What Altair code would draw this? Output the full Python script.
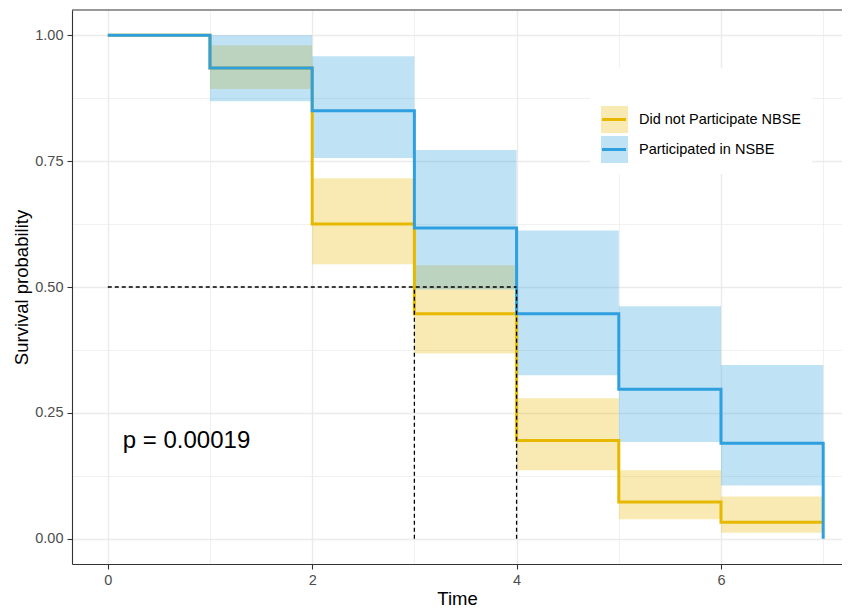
import altair as alt
import pandas as pd

# ---- data ----
groups = ["Did not Participate NBSE", "Participated in NSBE"]
line_colors = ["#E7B800", "#2E9FDF"]

times = [0, 1, 2, 3, 4, 5, 6, 7]
surv_no = [1.0, 0.935, 0.625, 0.447, 0.195, 0.073, 0.033, 0.033]
surv_yes = [1.0, 0.935, 0.85, 0.617, 0.447, 0.297, 0.19, 0.0]

band_start = [1, 2, 3, 4, 5, 6]
band_end = [2, 3, 4, 5, 6, 7]
lower_no = [0.893, 0.545, 0.368, 0.136, 0.039, 0.012]
upper_no = [0.980, 0.716, 0.543, 0.279, 0.136, 0.084]
lower_yes = [0.869, 0.756, 0.495, 0.325, 0.192, 0.106]
upper_yes = [1.0, 0.958, 0.772, 0.612, 0.462, 0.345]

median_times = [3, 4]
median_level = 0.5
pval_text = "p = 0.00019"

# ---- tables ----
lines_df = pd.DataFrame({
    "time": times * 2,
    "surv": surv_no + surv_yes,
    "group": [groups[0]] * len(times) + [groups[1]] * len(times),
})
bands_df = pd.DataFrame({
    "t0": band_start * 2,
    "t1": band_end * 2,
    "lo": lower_no + lower_yes,
    "hi": upper_no + upper_yes,
    "group": [groups[0]] * len(band_start) + [groups[1]] * len(band_start),
})
median_df = pd.DataFrame({
    "x": [0] + median_times,
    "x2": [max(median_times)] + median_times,
    "y": [median_level] + [0.0] * len(median_times),
    "y2": [median_level] + [median_level] * len(median_times),
})
pval_df = pd.DataFrame({"x": [0.147], "y": [0.18], "label": [pval_text]})
dummy = pd.DataFrame({"a": [0]})

FONT = "Liberation Sans"
W, H = 770, 554
xscale = alt.Scale(domain=[-0.35, 7.184], nice=False, zero=False)
yscale = alt.Scale(domain=[-0.05, 1.05], nice=False, zero=False)
color_scale = alt.Scale(domain=groups, range=line_colors)

x_axis = alt.Axis(
    values=[0, 1, 2, 3, 4, 5, 6, 7],
    labelExpr="datum.value % 2 == 1 ? '' : format(datum.value, 'd')",
    tickOpacity={"condition": {"test": "datum.value % 2 == 1", "value": 0}, "value": 1},
    gridWidth={"condition": {"test": "datum.value % 2 == 1", "value": 0.7}, "value": 1.4},
    title="Time",
)
y_axis = alt.Axis(
    values=[0, 0.125, 0.25, 0.375, 0.5, 0.625, 0.75, 0.875, 1.0],
    labelExpr="round(datum.value * 8) % 2 == 1 ? '' : format(datum.value, '.2f')",
    tickOpacity={"condition": {"test": "round(datum.value * 8) % 2 == 1", "value": 0}, "value": 1},
    gridWidth={"condition": {"test": "round(datum.value * 8) % 2 == 1", "value": 0.7}, "value": 1.4},
    title="Survival probability",
)

bands = alt.Chart(bands_df).mark_rect(opacity=0.3, strokeWidth=0).encode(
    x=alt.X("t0:Q", scale=xscale, axis=x_axis),
    x2="t1:Q",
    y=alt.Y("lo:Q", scale=yscale, axis=y_axis),
    y2="hi:Q",
    color=alt.Color("group:N", scale=color_scale, legend=None),
)

lines = alt.Chart(lines_df).mark_line(interpolate="step-after", strokeWidth=3).encode(
    x=alt.X("time:Q", scale=xscale, axis=x_axis),
    y=alt.Y("surv:Q", scale=yscale, axis=y_axis),
    color=alt.Color("group:N", scale=color_scale, legend=None),
    order=alt.Order("time:Q"),
)

median = alt.Chart(median_df).mark_rule(color="black", strokeWidth=1.3, strokeDash=[4, 3]).encode(
    x=alt.X("x:Q", scale=xscale, axis=x_axis),
    x2="x2:Q",
    y=alt.Y("y:Q", scale=yscale, axis=y_axis),
    y2="y2:Q",
)

pval = alt.Chart(pval_df).mark_text(
    align="left", baseline="alphabetic", fontSize=24, font=FONT, color="black"
).encode(
    x=alt.X("x:Q", scale=xscale, axis=x_axis),
    y=alt.Y("y:Q", scale=yscale, axis=y_axis),
    text="label:N",
)

top_border = alt.Chart(dummy).mark_rule(color="#333333", strokeWidth=1.1).encode(
    x=alt.value(0), x2=alt.value(W), y=alt.value(0)
)

# ---- legend drawn inside the panel ----
legend_layers = [
    alt.Chart(dummy).mark_rect(fill="white").encode(
        x=alt.value(518), x2=alt.value(740), y=alt.value(58), y2=alt.value(164)
    )
]
key_tops = [96, 126]
for i, g in enumerate(groups):
    top = key_tops[i]
    mid = top + 13.5
    legend_layers.append(
        alt.Chart(dummy).mark_rect(fill=line_colors[i], opacity=0.3).encode(
            x=alt.value(529), x2=alt.value(556), y=alt.value(top), y2=alt.value(top + 27)
        )
    )
    legend_layers.append(
        alt.Chart(dummy).mark_rule(color=line_colors[i], strokeWidth=3).encode(
            x=alt.value(530), x2=alt.value(554), y=alt.value(mid)
        )
    )
    legend_layers.append(
        alt.Chart(dummy).mark_text(
            text=g, align="left", baseline="middle", fontSize=14.5, font=FONT, color="black"
        ).encode(x=alt.value(567), y=alt.value(mid))
    )

chart = alt.layer(bands, lines, median, pval, top_border, *legend_layers).properties(
    width=W,
    height=H,
    autosize=alt.AutoSizeParams(type="none"),
    padding={"left": 64, "top": 2, "right": 0, "bottom": 46},
).configure_view(
    stroke=None
).configure_axis(
    labelFont=FONT,
    titleFont=FONT,
    labelFontSize=14.5,
    titleFontSize=18.5,
    labelColor="#4D4D4D",
    titleColor="black",
    titleFontWeight="normal",
    gridColor="#EBEBEB",
    domainColor="#333333",
    domainWidth=1.1,
    tickColor="#333333",
    tickWidth=1.1,
    tickSize=5,
    labelPadding=4,
    titlePadding=3,
).configure_axisX(
    labelAngle=0
)

chart.save("out.html", embed_options={"renderer": "svg", "actions": False})
